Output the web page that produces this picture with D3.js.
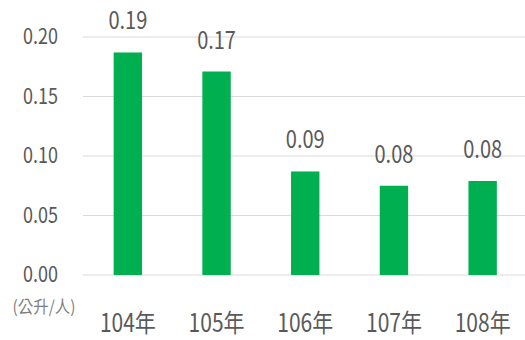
<!DOCTYPE html>
<html lang="zh-Hant">
<head>
<meta charset="UTF-8">
<script src="https://d3js.org/d3.v7.min.js"></script>
<style>
  body { margin: 0; background: #fff; }
  text { font-family: "Noto Sans CJK TC", "Noto Sans", sans-serif; fill: #595959; }
</style>
</head>
<body>
<div id="chart"></div>
<script>
// data
const years = ["104年", "105年", "106年", "107年", "108年"];
const values = [0.187, 0.171, 0.087, 0.075, 0.079];
const valueLabels = ["0.19", "0.17", "0.09", "0.08", "0.08"];
const yTicks = [0, 0.05, 0.10, 0.15, 0.20];
const unitLabel = "(公升/人)";

const width = 525, height = 340;

const svg = d3.select("#chart").append("svg")
    .attr("width", width)
    .attr("height", height);

const x = d3.scaleBand()
    .domain(years)
    .range([83.5, 527])
    .paddingInner(0.68)
    .paddingOuter(0.34);

const y = d3.scaleLinear()
    .domain([0, 0.2])
    .range([275, 37]);

// gridlines
svg.append("g")
  .selectAll("line")
  .data(yTicks)
  .join("line")
    .attr("x1", 83)
    .attr("x2", width)
    .attr("y1", d => y(d))
    .attr("y2", d => y(d))
    .attr("stroke", "#d9d9d9")
    .attr("stroke-width", 1.2);

// y tick labels (text is a bit tall in the original, so stretch vertically)
svg.append("g")
  .selectAll("text")
  .data(yTicks)
  .join("text")
    .attr("transform", d => `translate(58,${y(d) + 7}) scale(1,1.2)`)
    .attr("text-anchor", "end")
    .style("font-size", "18px")
    .text(d => d3.format(".2f")(d));

// bars
svg.append("g")
  .selectAll("rect")
  .data(values)
  .join("rect")
    .attr("x", (d, i) => x(years[i]))
    .attr("width", x.bandwidth())
    .attr("y", d => y(d))
    .attr("height", d => y(0) - y(d))
    .attr("fill", "#00b050");

// value labels
svg.append("g")
  .selectAll("text")
  .data(values)
  .join("text")
    .attr("transform", (d, i) => `translate(${x(years[i]) + x.bandwidth() / 2},${y(d) - 23}) scale(1,1.2)`)
    .attr("text-anchor", "middle")
    .style("font-size", "20px")
    .text((d, i) => valueLabels[i]);

// category labels
svg.append("g")
  .selectAll("text")
  .data(years)
  .join("text")
    .attr("transform", d => `translate(${x(d) + x.bandwidth() / 2},332) scale(1,1.2)`)
    .attr("text-anchor", "middle")
    .style("font-size", "21px")
    .text(d => d);

// unit
svg.append("text")
    .attr("transform", "translate(44,313) scale(1,1.1)")
    .attr("text-anchor", "middle")
    .style("font-size", "15.5px")
    .style("fill", "#7f7f7f")
    .text(unitLabel);
</script>
</body>
</html>
